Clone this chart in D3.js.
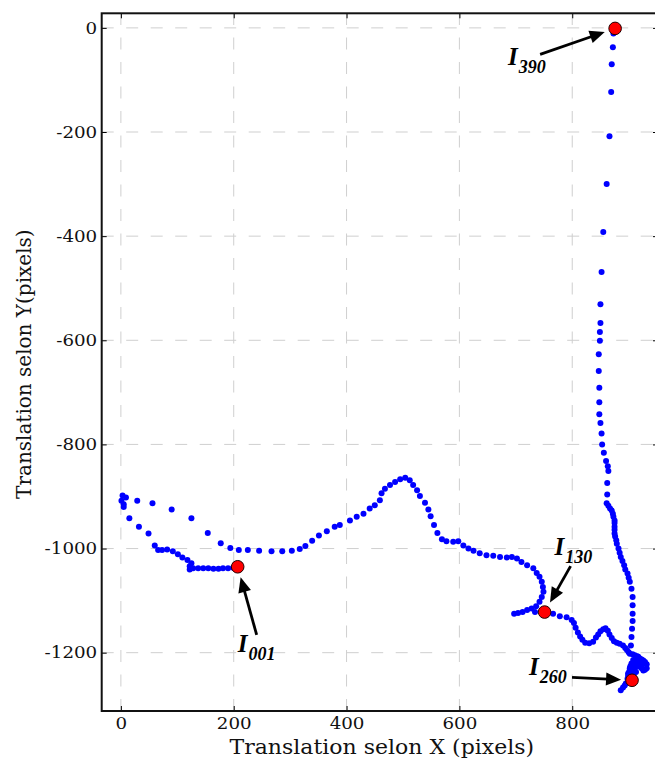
<!DOCTYPE html>
<html>
<head>
<meta charset="utf-8">
<script src="https://cdn.jsdelivr.net/npm/d3@7"></script>
<style>
  body { margin: 0; background: #fff; }
  svg { display: block; }
</style>
</head>
<body>
<svg id="chart"></svg>
<script>
// trajectory (frame by frame, in pixels of the video)
const trajX = [
  207, 199, 190, 181, 173, 164, 155, 146, 137, 128, 122, 122, 125, 118, 109, 101, 92, 82, 73, 66,
  60, 49, 32, 15, 5, 5, 1, 3, 9, 29, 56, 90, 125, 154, 177, 194, 209, 225, 245, 267,
  286, 303, 317, 327, 339, 351, 365, 379, 388, 406, 418, 430, 441, 450, 459, 462, 468, 477, 486, 495,
  504, 512, 518, 525, 530, 539, 545, 549, 555, 561, 569, 577, 589, 598, 607, 616, 625, 636, 648, 660,
  672, 684, 693, 702, 710, 720, 731, 737, 742, 746, 748, 749, 746, 742, 736, 728, 720, 712, 704, 697,
  734, 751,
  766, 778, 790, 799, 803, 806, 810, 814, 818, 823, 830, 837, 842, 846, 850, 855, 859, 863, 866, 870,
  874, 879, 884, 890, 894,
  897, 900, 902, 907, 911, 915, 917, 920, 923, 926, 929, 932, 932, 929, 926, 923, 920, 917, 914, 909,
  905, 903, 902, 901, 899, 899, 898, 895, 893, 890, 886, 908, 913, 918, 924, 911, 906, 904, 909, 913,
  906,
  904, 905, 906, 907, 907, 907, 907, 905, 902, 900, 898, 894, 892, 889, 886, 884, 882, 879, 878, 876,
  875, 875, 875, 875, 875, 873, 872, 870, 867, 864, 861,
  862, 862, 864, 863, 860, 856, 853, 852, 850, 848, 848, 848, 847, 847, 849, 849, 850, 850, 852, 855,
  861, 866, 869, 870, 872, 873, 876
];
const trajY = [
  -1035, -1037, -1038, -1038, -1039, -1039, -1038, -1038, -1038, -1038, -1040, -1034, -1028, -1022, -1017, -1011, -1005, -1002, -1003, -1003,
  -994, -971, -958, -942, -920, -915, -908, -898, -902, -908, -913, -925, -942, -970, -990, -999, -1003, -1003, -1004, -1005,
  -1005, -1004, -1001, -995, -985, -975, -967, -958, -955, -946, -939, -933, -923, -917, -907, -894, -885, -878, -872, -867,
  -864, -869, -878, -888, -899, -912, -925, -938, -955, -970, -982, -986, -987, -986, -994, -1000, -1004, -1009, -1013, -1014,
  -1016, -1017, -1016, -1019, -1026, -1032, -1038, -1047, -1054, -1064, -1074, -1083, -1093, -1102, -1111, -1115, -1118, -1122, -1124, -1125,
  -1122, -1122,
  -1125, -1130, -1132, -1137, -1143, -1152, -1161, -1169, -1175, -1181, -1182, -1179, -1171, -1165, -1159, -1155, -1153, -1158, -1165, -1172,
  -1178, -1181, -1183, -1186, -1191,
  -1195, -1199, -1202, -1203, -1205, -1207, -1208, -1211, -1213, -1215, -1218, -1222, -1230, -1233, -1234, -1230, -1227, -1225, -1224, -1222,
  -1221, -1226, -1230, -1236, -1240, -1245, -1250, -1259, -1263, -1267, -1272, -1214, -1214, -1218, -1222, -1230, -1237, -1243, -1245, -1237,
  -1253,
  -1186, -1170, -1154, -1139, -1125, -1109, -1093, -1077, -1064, -1056, -1048, -1040, -1032, -1024, -1016, -1008, -1000, -991, -984, -977,
  -971, -964, -958, -951, -946, -939, -933, -927, -923, -918, -913,
  -896, -874, -851, -842, -832, -816, -800, -779, -759, -742, -719, -691, -659, -627, -601, -584, -567, -531, -469, -392,
  -300, -208, -123, -70, -37, -11, -1
];

// annotated frames
const annotLabels = ["001", "130", "260", "390"];
const annotX = [207, 751, 906, 876];
const annotY = [-1035, -1122, -1253, -1];

const xTicks = [0, 200, 400, 600, 800];
const yTicks = [0, -200, -400, -600, -800, -1000, -1200];

const width = 655;
const height = 762;
const mLeft = 101.7, mRight = 658, mTop = 13.3, mBottom = 711;

const svg = d3.select("#chart")
  .attr("width", width)
  .attr("height", height);

const x = d3.scaleLinear().domain([-34, 952]).range([mLeft, mRight]);
const y = d3.scaleLinear().domain([-1312, 28]).range([mBottom, mTop]);

// grid
const grid = svg.append("g")
  .attr("stroke", "#cfcfcf")
  .attr("stroke-width", 1)
  .attr("stroke-dasharray", "12,12.5");
grid.selectAll("line.gx")
  .data(xTicks)
  .join("line")
  .attr("class", "gx")
  .attr("x1", d => x(d)).attr("x2", d => x(d))
  .attr("y1", mBottom).attr("y2", mTop);
grid.selectAll("line.gy")
  .data(yTicks)
  .join("line")
  .attr("class", "gy")
  .attr("x1", mLeft).attr("x2", mRight)
  .attr("y1", d => y(d)).attr("y2", d => y(d));

// trajectory points
const pts = d3.range(trajX.length).map(i => [trajX[i], trajY[i]]);
svg.append("g")
  .selectAll("circle")
  .data(pts)
  .join("circle")
  .attr("cx", d => x(d[0]))
  .attr("cy", d => y(d[1]))
  .attr("r", 3)
  .attr("fill", "#0000ff");

// highlighted frames
const annots = annotLabels.map((l, i) => ({ label: l, x: annotX[i], y: annotY[i] }));
svg.append("g")
  .selectAll("circle")
  .data(annots)
  .join("circle")
  .attr("cx", d => x(d.x))
  .attr("cy", d => y(d.y))
  .attr("r", 6.3)
  .attr("fill", "#ff0000")
  .attr("stroke", "#220000")
  .attr("stroke-width", 1);

// axes (ticks pointing inward)
const tickFont = "'DejaVu Serif', serif";
const plain = d => String(d);   // "-1200", hyphen and no thousands comma
svg.append("g")
  .attr("transform", `translate(0,${mBottom})`)
  .call(d3.axisBottom(x).tickValues(xTicks).tickFormat(plain).tickSizeInner(-5).tickSizeOuter(0).tickPadding(7));
svg.append("g")
  .attr("transform", `translate(${mLeft},0)`)
  .call(d3.axisLeft(y).tickValues(yTicks).tickFormat(plain).tickSizeInner(-5).tickSizeOuter(0).tickPadding(4.5));
svg.append("g")
  .attr("transform", `translate(0,${mTop})`)
  .call(d3.axisTop(x).tickValues(xTicks).tickSizeInner(-5).tickSizeOuter(0).tickFormat(""));
svg.append("g")
  .attr("transform", `translate(${mRight},0)`)
  .call(d3.axisRight(y).tickValues(yTicks).tickSizeInner(-5).tickSizeOuter(0).tickFormat(""));

svg.selectAll(".domain").remove();
svg.selectAll(".tick line").attr("stroke", "#000").attr("stroke-width", 1);

// the original picture is a bit wider than tall, so the lettering is stretched sideways
function widen(sel, k) {
  sel.each(function () {
    const w = this.getComputedTextLength();
    if (w > 0) d3.select(this).attr("textLength", w * k).attr("lengthAdjust", "spacingAndGlyphs");
  });
}

svg.selectAll(".tick text")
  .attr("fill", "#111")
  .style("font-family", tickFont)
  .style("font-size", "16px")
  .call(widen, 1.14);

// frame
svg.append("rect")
  .attr("x", mLeft).attr("y", mTop)
  .attr("width", mRight - mLeft).attr("height", mBottom - mTop)
  .attr("fill", "none")
  .attr("stroke", "#111")
  .attr("stroke-width", 2);

// axis titles
svg.append("text")
  .attr("x", (mLeft + mRight) / 2 + 2)
  .attr("y", 754)
  .attr("text-anchor", "middle")
  .style("font-family", tickFont)
  .style("font-size", "20px")
  .attr("fill", "#111")
  .text("Translation selon X (pixels)")
  .call(widen, 1.1);
svg.append("text")
  .attr("transform", `translate(31,${(mTop + mBottom) / 2 + 2}) rotate(-90)`)
  .attr("text-anchor", "middle")
  .style("font-family", tickFont)
  .style("font-size", "20px")
  .attr("fill", "#111")
  .text("Translation selon Y(pixels)");

// annotations: text position and arrow tail, relative to the marked point (px)
const textOff = { "001": [0, 85], "130": [10, -57], "260": [-103, -5], "390": [-107, 37] };
const tailOff = { "001": [19, 68], "130": [26, -46], "260": [-60, -3], "390": [-75, 26] };
const shrink = 11;
const headLen = 15, headW = 6.5;

const ann = svg.append("g");
annots.forEach(d => {
  const px = x(d.x), py = y(d.y);
  const tx = px + tailOff[d.label][0], ty = py + tailOff[d.label][1];
  const dx = px - tx, dy = py - ty;
  const len = Math.hypot(dx, dy);
  const ux = dx / len, uy = dy / len;
  const hx = px - ux * shrink, hy = py - uy * shrink;       // arrow tip
  const bx = hx - ux * headLen, by = hy - uy * headLen;     // base of head
  ann.append("line")
    .attr("x1", tx).attr("y1", ty)
    .attr("x2", bx + ux * 2).attr("y2", by + uy * 2)
    .attr("stroke", "#000")
    .attr("stroke-width", 2.8);
  ann.append("path")
    .attr("d", `M${hx},${hy} L${bx - uy * headW},${by + ux * headW} L${bx + uy * headW},${by - ux * headW} Z`)
    .attr("fill", "#000");

  const t = ann.append("text")
    .attr("x", px + textOff[d.label][0])
    .attr("y", py + textOff[d.label][1])
    .style("font-family", "'Liberation Serif', 'Times New Roman', serif")
    .style("font-weight", "bold")
    .style("font-style", "italic")
    .attr("fill", "#000");
  t.append("tspan").style("font-size", "25px").text("I");
  t.append("tspan").attr("dy", 8).attr("dx", 1).style("font-size", "18px").text(d.label);
});
</script>
</body>
</html>
